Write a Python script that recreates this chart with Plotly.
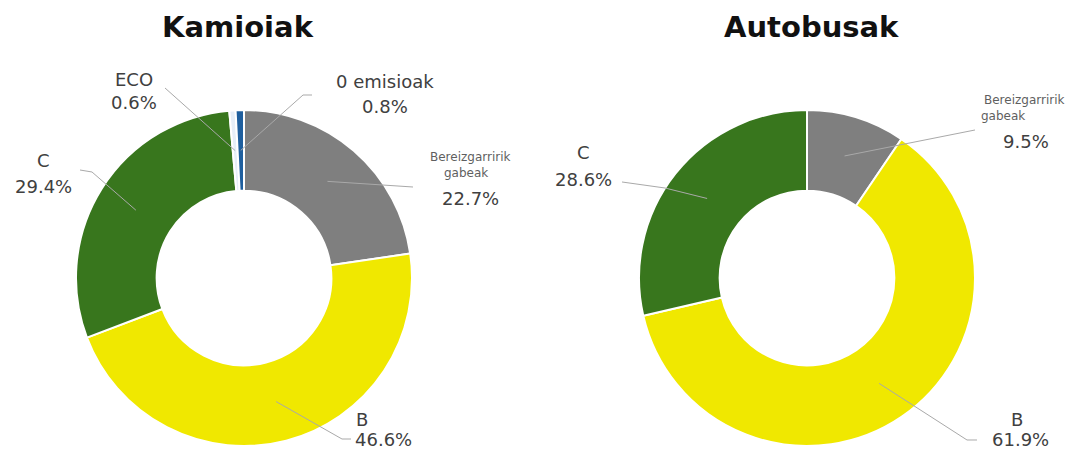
import math
import plotly.graph_objects as go

# --- data -------------------------------------------------------------
truck_labels = ["Bereizgarririk gabeak", "B", "C", "ECO", "0 emisioak"]
truck_values = [22.7, 46.6, 29.4, 0.6, 0.8]

bus_labels = ["Bereizgarririk gabeak", "B", "C"]
bus_values = [9.5, 61.9, 28.6]

titles = ["Kamioiak", "Autobusak"]

colors = {
    "Bereizgarririk gabeak": "#7f7f7f",
    "B": "#f0e800",
    "C": "#38761d",
    "ECO": "#e6eef8",
    "0 emisioak": "#1f5f9e",
}

# --- layout (pixels) ---------------------------------------------------
W, H = 1070, 452
R = 168
HOLE = 0.52
centers = [(244, 278), (807, 278)]
title_pos = [(238, 27), (811, 27)]

LABEL_FONT = "DejaVu Sans"
LABEL_COLOR = "#404040"
LEADER_COLOR = "#a9a9a9"


def px(x, y):
    return x / W, 1 - y / H


def slice_mid(values, idx, center):
    """Point in the middle of the ring, at the mid-angle of slice idx."""
    total = sum(values)
    frac = (sum(values[:idx]) + values[idx] / 2) / total
    a = 2 * math.pi * frac
    rm = R * (1 + HOLE) / 2
    cx, cy = center
    return cx + rm * math.sin(a), cy - rm * math.cos(a)


fig = go.Figure()

for (cx, cy), labels, values in [
    (centers[0], truck_labels, truck_values),
    (centers[1], bus_labels, bus_values),
]:
    x0, y1 = px(cx - R, cy - R)
    x1, y0 = px(cx + R, cy + R)
    fig.add_trace(go.Pie(
        labels=labels,
        values=values,
        hole=HOLE,
        sort=False,
        direction="clockwise",
        rotation=0,
        textinfo="none",
        hoverinfo="label+value",
        marker=dict(colors=[colors[l] for l in labels],
                    line=dict(color="white", width=2)),
        domain=dict(x=[x0, x1], y=[y0, y1]),
        showlegend=False,
    ))

annotations = []
shapes = []


def text(s, x, y, size=18, color=LABEL_COLOR, bold=False, family=LABEL_FONT):
    ax, ay = px(x, y)
    annotations.append(dict(
        text=f"<b>{s}</b>" if bold else s,
        x=ax, y=ay, xref="paper", yref="paper",
        xanchor="center", yanchor="middle", showarrow=False,
        font=dict(family=family, size=size, color=color),
    ))


def leader(points):
    pts = [px(x, y) for x, y in points]
    path = "M " + " L ".join(f"{x:.5f},{y:.5f}" for x, y in pts)
    shapes.append(dict(type="path", path=path, xref="paper", yref="paper",
                       line=dict(color=LEADER_COLOR, width=1)))


def pct(v):
    return f"{v:.1f}%"


# titles
for t, (x, y) in zip(titles, title_pos):
    text(t, x, y, size=29, color="#111111", bold=True)

# --- Kamioiak labels ---
c = centers[0]
tv = truck_values
# Bereizgarririk gabeak
text("Bereizgarririk", 470, 157, size=12, color="#5f5f5f")
text("gabeak", 466, 173, size=12, color="#5f5f5f")
text(pct(tv[0]), 470, 199)
leader([slice_mid(tv, 0, c), (413, 187)])
# B
text("B", 362, 419)
text(pct(tv[1]), 383, 439)
leader([slice_mid(tv, 1, c), (342, 439), (351, 439)])
# C
text("C", 43, 160)
text(pct(tv[2]), 43, 187)
leader([(80, 170), (92, 172), slice_mid(tv, 2, c)])
# ECO
text("ECO", 134, 79)
text(pct(tv[3]), 134, 103)
leader([(165, 88), slice_mid(tv, 3, c)])
# 0 emisioak
text("0 emisioak", 385, 82)
text(pct(tv[4]), 385, 106)
leader([(312, 95), (303, 95), slice_mid(tv, 4, c)])

# --- Autobusak labels ---
c = centers[1]
bv = bus_values
text("Bereizgarririk", 1024, 100, size=12, color="#5f5f5f")
text("gabeak", 1003, 116, size=12, color="#5f5f5f")
text(pct(bv[0]), 1026, 142)
leader([slice_mid(bv, 0, c), (975, 130)])
text("B", 1017, 419)
text(pct(bv[1]), 1020, 439)
leader([slice_mid(bv, 1, c), (967, 440), (977, 440)])
text("C", 583, 152)
text(pct(bv[2]), 583, 180)
leader([(622, 182), (665, 188), slice_mid(bv, 2, c)])

fig.update_layout(
    width=W, height=H, autosize=False,
    margin=dict(l=0, r=0, t=0, b=0),
    paper_bgcolor="white", plot_bgcolor="white",
    annotations=annotations, shapes=shapes,
)

fig.write_html("out.html")
